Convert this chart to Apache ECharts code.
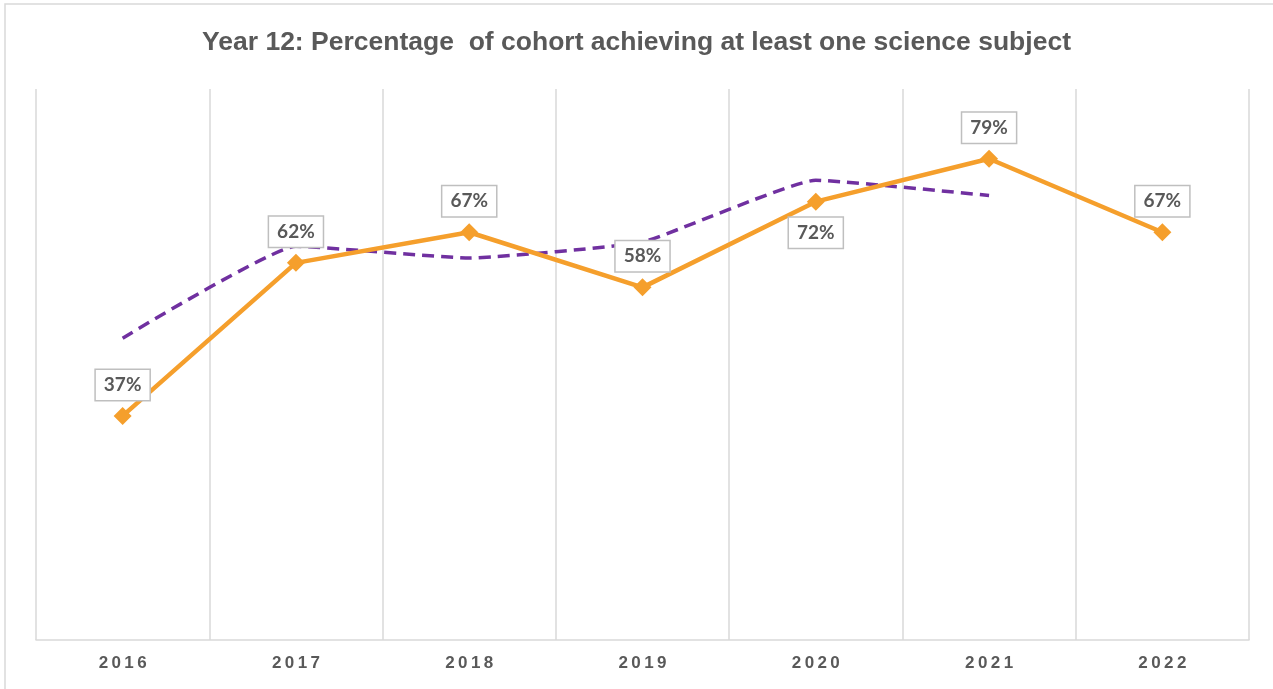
<!DOCTYPE html>
<html lang="en">
<head>
	<meta charset="utf-8">
	<title>Year 12 science</title>
	<script src="https://cdn.jsdelivr.net/npm/echarts@6/dist/echarts.min.js"></script>
</head>
<style>
	html,body{width: 100%; height: 100%; padding: 0; margin: 0; overflow: hidden; background: #fff;}
	.main{width: 1273px; height: 689px;}
</style>
<body>
	<div id="main" class="main"></div>
</body>
<script type="text/javascript">
	// chart data
	var years = ['2016', '2017', '2018', '2019', '2020', '2021', '2022'];
	var cohortPct = [37, 62, 67, 58, 72, 79, 67];
	// purple dashed line (no value for 2022)
	var trendPct = [49.7, 64.7, 62.8, 65.4, 75.5, 73];
	// points whose label sits under the marker
	var labelBelow = ['2020'];

	var grey = '#595959';

	var cohortData = cohortPct.map(function (v, i) {
		var item = { value: v };
		if (labelBelow.indexOf(years[i]) >= 0) {
			item.label = { position: 'bottom' };
		}
		return item;
	});

	var myChart = echarts.init(document.getElementById('main'));
	var option = {
		animation: false,
		backgroundColor: '#fff',
		title: {
			text: 'Year 12: Percentage  of cohort achieving at least one science subject',
			left: 'center',
			top: 29,
			padding: 0,
			textStyle: {
				fontFamily: 'Arial, "Liberation Sans", sans-serif',
				fontSize: 26.5,
				fontWeight: 'bold',
				color: grey
			}
		},
		graphic: [{
			type: 'rect',
			shape: { x: 5, y: 4, width: 1300, height: 720 },
			style: { fill: null, stroke: '#d9d9d9', lineWidth: 1.5 },
			silent: true
		}],
		grid: { left: 36, right: 24, top: 89, bottom: 49 },
		xAxis: {
			type: 'category',
			data: years,
			boundaryGap: true,
			axisLine: { show: true, lineStyle: { color: '#d9d9d9', width: 1.5 } },
			axisTick: { show: false },
			splitLine: { show: true, lineStyle: { color: '#d9d9d9', width: 1.5 } },
			axisLabel: {
				margin: 15,
				color: grey,
				fontFamily: 'Arial, "Liberation Sans", sans-serif',
				fontSize: 17,
				fontWeight: 'bold',
				formatter: function (v) { return v.split('').join('\u2009'); }
			}
		},
		yAxis: {
			type: 'value',
			min: 0.4,
			max: 90.4,
			show: false,
			splitLine: { show: false }
		},
		series: [{
			name: 'trend',
			type: 'line',
			data: trendPct,
			smooth: 0.12,
			symbol: 'none',
			z: 2,
			lineStyle: { color: '#7030a0', width: 3.5, type: [12, 7] }
		}, {
			name: 'cohort',
			type: 'line',
			data: cohortData,
			symbol: 'diamond',
			symbolSize: 18,
			z: 3,
			itemStyle: { color: '#f59f2c' },
			lineStyle: { color: '#f59f2c', width: 4.5 },
			label: {
				show: true,
				position: 'top',
				distance: 7,
				formatter: '{c}%',
				fontFamily: 'Lato, sans-serif',
				fontSize: 19,
				fontWeight: 'bold',
				color: grey,
				lineHeight: 20,
				backgroundColor: '#fff',
				borderColor: '#bfbfbf',
				borderWidth: 1.5,
				padding: [5, 8]
			}
		}]
	};
	myChart.setOption(option);
</script>
</html>
